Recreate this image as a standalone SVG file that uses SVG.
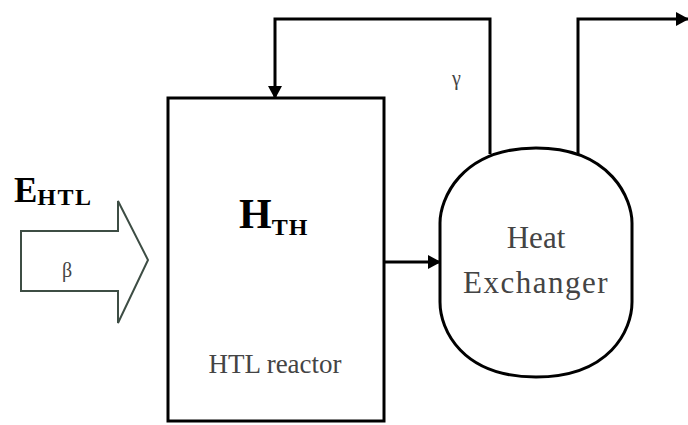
<svg xmlns="http://www.w3.org/2000/svg" width="688" height="425" viewBox="0 0 688 425">
<style>
.ln{fill:none;stroke:#000;stroke-width:3}
.lbl{font-family:"Liberation Serif","Times New Roman",serif;fill:#444}
.bold{font-family:"Liberation Serif","Times New Roman",serif;font-weight:bold;fill:#000}
</style>
<defs>
<marker id="ah" markerUnits="userSpaceOnUse" markerWidth="14" markerHeight="14" refX="12" refY="7" orient="auto">
<path d="M0,0 L13,7 L0,14 Z" fill="#000"/>
</marker>
</defs>
<rect width="688" height="425" fill="#fff"/>
<g id="input-arrow">
<polygon points="21,231 118,231 118,201 148,260 118,323 118,291 21,291" fill="#fff" stroke="#3d4d44" stroke-width="2"/>
<text x="62" y="277" class="lbl" font-size="20">β</text>
<text x="14" y="202" class="bold" font-size="35">E<tspan font-size="24" dy="3" letter-spacing="1.5">HTL</tspan></text>
</g>
<g id="reactor">
<rect x="168" y="98" width="216" height="323" class="ln"/>
<text x="239" y="228" class="bold" font-size="42">H<tspan font-size="24" dy="7" letter-spacing="1">TH</tspan></text>
<text x="275" y="373" class="lbl" font-size="27" text-anchor="middle">HTL reactor</text>
</g>
<g id="heat-exchanger">
<path d="M536,148 C612,148 632,200 632,223 V302 C632,330 610,377 536,377 C462,377 440,330 440,302 V223 C440,200 460,148 536,148 Z" class="ln"/>
<text x="536" y="248" class="lbl" font-size="31" text-anchor="middle">Heat</text>
<text x="536" y="293" class="lbl" font-size="31" text-anchor="middle" letter-spacing="1.5">Exchanger</text>
</g>
<g id="connectors">
<path d="M490,154 V19 H275 V98" class="ln" marker-end="url(#ah)"/>
<text x="452" y="85" class="lbl" font-size="20">γ</text>
<path d="M578,154 V19 H688" class="ln" marker-end="url(#ah)"/>
<path d="M384,262 H440" class="ln" marker-end="url(#ah)"/>
</g>
</svg>
